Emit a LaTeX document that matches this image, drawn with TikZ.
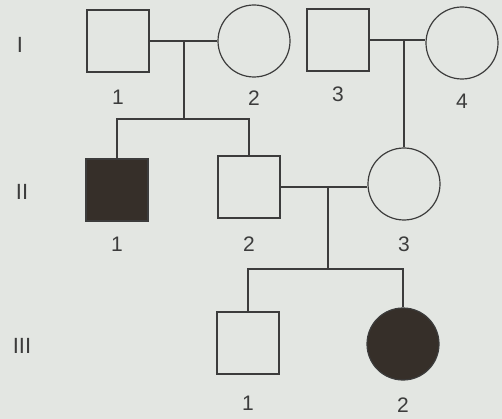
\documentclass[tikz,border=0pt]{standalone}
\usepackage{fontspec}
\setmainfont{Liberation Sans}
\usetikzlibrary{positioning}
\definecolor{paper}{HTML}{E3E6E2}
\definecolor{ink}{HTML}{3C3C3C}
\definecolor{sick}{HTML}{362F29}

\begin{document}
\begin{tikzpicture}[
  x=1pt, y=-1pt,
  male/.style={draw=ink, minimum size=62pt, inner sep=0pt, line width=1.2pt},
  female/.style={draw=ink, circle, minimum size=72pt, inner sep=0pt, line width=1.2pt},
  affected/.style={fill=sick},
  tag/.style={font=\fontsize{21}{25}\selectfont, inner sep=0pt, text=ink},
  gen/.style={font=\fontsize{22}{26}\selectfont, inner sep=0pt, text=ink},
  link/.style={draw=ink, line width=1.2pt},
]
\fill[paper] (0,0) rectangle (502,419);
\useasboundingbox (0,0) rectangle (502,419);

%% --- Generation I ---
\node[male]   (I1) at (118, 41) {};
\node[female] (I2) at (254, 41) {};
\node[male]   (I3) at (338, 40) {};
\node[female] (I4) at (462, 43) {};

%% --- Generation II ---
\node[male, affected] (II1) at (117, 190) {};
\node[male]           (II2) at (249, 187) {};
\node[female]         (II3) at (404, 184) {};

%% --- Generation III ---
\node[male]             (III1) at (248, 343) {};
\node[female, affected] (III2) at (403, 344) {};

%% --- Numbers ---
\node[tag, below=17pt of I1]   (nI1)   {1};
\node[tag, below=13pt of I2]   (nI2)   {2};
\node[tag, below=15pt of I3]   (nI3)   {3};
\node[tag, below=14pt of I4]   (nI4)   {4};
\node[tag, below=15pt of II1]  (nII1)  {1};
\node[tag, below=18pt of II2]  (nII2)  {2};
\node[tag, below=16pt of II3]  (nII3)  {3};
\node[tag, below=21pt of III1] (nIII1) {1};
\node[tag, below=17pt of III2] (nIII2) {2};

%% --- Generations ---
\node[gen] (gI)   at (20, 45)  {I};
\node[gen] (gII)  at (22, 192) {II};
\node[gen] (gIII) at (22, 346) {III};

%% --- Drop points ---
\coordinate (m1) at (184, 41);
\coordinate (s1) at (184, 119);
\coordinate (m2) at (328, 187);
\coordinate (s2) at (328, 269);

%% --- Lines ---
\draw[link] (I1.east) -- (I2.west);
\draw[link] (I3.east) -- (I3.east -| I4.west);
\draw[link] (II2.east) -- (II2.east -| II3.west);
\draw[link] (m1) -- (s1);
\draw[link] (II1.north) |- (s1) -| (II2.north);
\draw[link] (II3.north) -- (II3.north |- I3.east);
\draw[link] (m2) -- (s2);
\draw[link] (III1.north) |- (s2) -| (III2.north);

\end{tikzpicture}
\end{document}
